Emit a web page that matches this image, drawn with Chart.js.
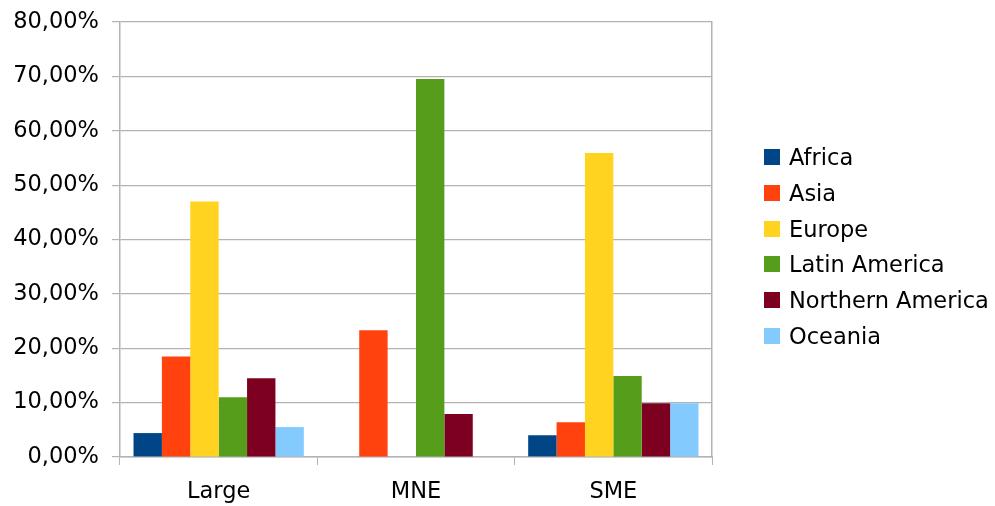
<!DOCTYPE html>
<html>
<head>
<meta charset="utf-8">
<script src="https://cdn.jsdelivr.net/npm/chart.js@4/dist/chart.umd.min.js"></script>
<style>
  html, body { margin: 0; padding: 0; background: #fff; }
  #wrap { position: relative; width: 995px; height: 506px; }
  #legend {
    position: absolute; left: 764px; top: 139.5px;
    font-family: 'DejaVu Sans'; font-size: 22.5px; color: #000;
  }
  #legend .item { height: 35.66px; display: flex; align-items: center; white-space: nowrap; }
  #legend .box { width: 16px; height: 16px; margin-right: 9px; flex: none; }
</style>
</head>
<body>
<div id="wrap">
  <canvas id="chart"></canvas>
  <div id="legend"></div>
</div>
<script>
// Data (percent)
const categories = ['Large', 'MNE', 'SME'];
const africa = [4.4, 0, 4.0];
const asia = [18.5, 23.3, 6.4];
const europe = [47.0, 0, 55.9];
const latinAmerica = [11.0, 69.5, 14.9];
const northernAmerica = [14.5, 7.9, 9.9];
const oceania = [5.5, 0, 9.9];

const yTicks = { min: 0, max: 80, step: 10 };

const series = [
  { label: 'Africa', data: africa, color: '#004586' },
  { label: 'Asia', data: asia, color: '#ff420e' },
  { label: 'Europe', data: europe, color: '#ffd320' },
  { label: 'Latin America', data: latinAmerica, color: '#579d1c' },
  { label: 'Northern America', data: northernAmerica, color: '#7e0021' },
  { label: 'Oceania', data: oceania, color: '#83caff' }
];

const lineColor = '#b3b3b3';
const font = { family: 'DejaVu Sans', size: 22.5 };

const chart = new Chart(document.getElementById('chart'), {
  type: 'bar',
  data: {
    labels: categories,
    datasets: series.map(s => ({
      label: s.label,
      data: s.data,
      backgroundColor: s.color,
      borderWidth: 0,
      categoryPercentage: 0.863,
      barPercentage: 1.0
    }))
  },
  options: {
    responsive: true,
    maintainAspectRatio: false,
    animation: false,
    layout: { padding: { top: 22, left: 0, bottom: 0, right: 282 } },
    plugins: {
      tooltip: { enabled: false },
      legend: { display: false }
    },
    scales: {
      x: {
        grid: {
          drawOnChartArea: false,
          tickLength: 8,
          tickColor: lineColor
        },
        border: { color: lineColor, width: 1.5 },
        ticks: { color: '#000', font: font, padding: 14 },
        afterFit: scale => { scale.height = 49; }
      },
      y: {
        min: yTicks.min,
        max: yTicks.max,
        grid: { color: lineColor, tickLength: 8, lineWidth: 1.2 },
        border: { color: lineColor, width: 1.5 },
        ticks: {
          stepSize: yTicks.step,
          color: '#000',
          font: font,
          padding: 13,
          callback: v => v.toFixed(2).replace('.', ',') + '%'
        },
        afterFit: scale => {
          scale.width = 120;
          scale.paddingTop = 0;
          scale.paddingBottom = 0;
        }
      },
      yRight: {
        position: 'right',
        display: true,
        grid: { drawOnChartArea: false, drawTicks: false },
        border: { color: lineColor, width: 1.5 },
        ticks: { display: false },
        afterFit: scale => {
          scale.width = 1;
          scale.paddingTop = 0;
          scale.paddingBottom = 0;
        }
      }
    }
  }
});

// legend as real text, built from the same series
const legendEl = document.getElementById('legend');
chart.data.datasets.forEach(ds => {
  const row = document.createElement('div');
  row.className = 'item';
  const box = document.createElement('span');
  box.className = 'box';
  box.style.background = ds.backgroundColor;
  const txt = document.createElement('span');
  txt.textContent = ds.label;
  row.appendChild(box);
  row.appendChild(txt);
  legendEl.appendChild(row);
});
</script>
</body>
</html>
